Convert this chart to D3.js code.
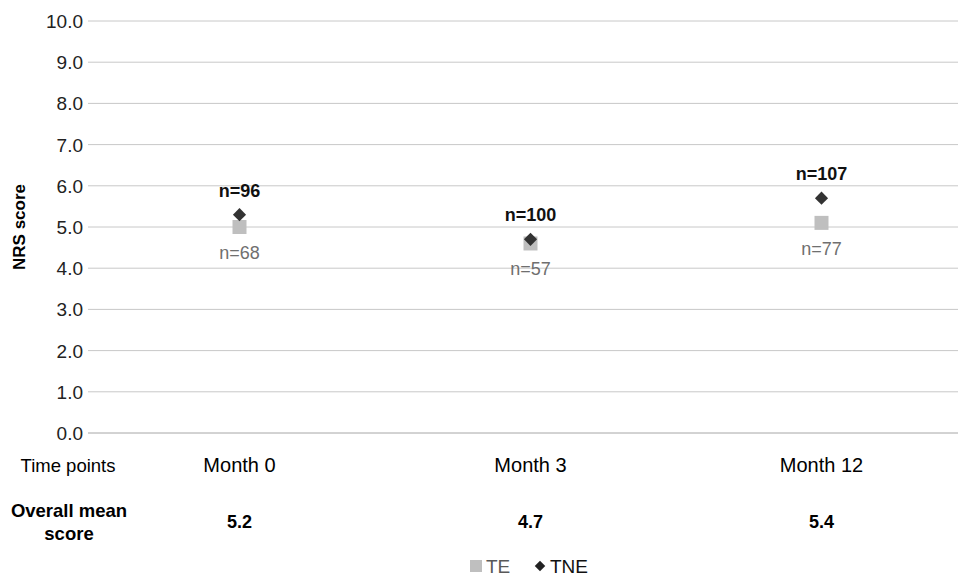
<!DOCTYPE html>
<html>
<head>
<meta charset="utf-8">
<script src="https://cdn.jsdelivr.net/npm/d3@7"></script>
<style>
  body { margin: 0; background: #fff; }
  text { font-family: "Liberation Sans", Arial, sans-serif; }
</style>
</head>
<body>
<svg id="chart" width="958" height="576"></svg>
<script>
const months = ['Month 0', 'Month 3', 'Month 12']
const teValues = [5.0, 4.6, 5.1]
const tneValues = [5.3, 4.7, 5.7]
const teN = ['n=68', 'n=57', 'n=77']
const tneN = ['n=96', 'n=100', 'n=107']
const overallMean = ['5.2', '4.7', '5.4']
const yTicks = [0, 1, 2, 3, 4, 5, 6, 7, 8, 9, 10]

const svg = d3.select('#chart')
const plotLeft = 94, plotRight = 967, plotTop = 21, plotBottom = 433

const x = d3.scaleBand().domain(months).range([plotLeft, plotRight])
const y = d3.scaleLinear().domain([0, 10]).range([plotBottom, plotTop])

// gridlines
svg.append('g')
  .selectAll('line')
  .data(yTicks)
  .enter()
  .append('line')
  .attr('x1', plotLeft - 6)
  .attr('x2', 958)
  .attr('y1', d => y(d))
  .attr('y2', d => y(d))
  .attr('stroke', d => d === 0 ? '#a6a6a6' : '#c8c8c8')
  .attr('stroke-width', 1)

// y labels
svg.append('g')
  .selectAll('text')
  .data(yTicks)
  .enter()
  .append('text')
  .attr('x', 83)
  .attr('y', d => y(d) + 7)
  .attr('text-anchor', 'end')
  .attr('font-size', 19)
  .attr('fill', '#222')
  .text(d => d.toFixed(1))

svg.append('text')
  .attr('transform', `translate(25,${(plotTop + plotBottom) / 2}) rotate(-90)`)
  .attr('text-anchor', 'middle')
  .attr('font-size', 17)
  .attr('font-weight', 'bold')
  .text('NRS score')

const cx = d => x(d) + x.bandwidth() / 2

// TE squares
svg.append('g')
  .selectAll('rect')
  .data(months)
  .enter()
  .append('rect')
  .attr('x', (d) => cx(d) - 7)
  .attr('y', (d, i) => y(teValues[i]) - 7)
  .attr('width', 14)
  .attr('height', 14)
  .attr('fill', '#bfbfbf')

// TNE diamonds
const diamond = d3.symbol().type(d3.symbolDiamond2).size(110)
svg.append('g')
  .selectAll('path')
  .data(months)
  .enter()
  .append('path')
  .attr('d', diamond)
  .attr('transform', (d, i) => `translate(${cx(d)},${y(tneValues[i])})`)
  .attr('fill', '#333333')

// n labels
svg.append('g')
  .selectAll('text')
  .data(months)
  .enter()
  .append('text')
  .attr('x', d => cx(d))
  .attr('y', (d, i) => y(tneValues[i]) - 18)
  .attr('text-anchor', 'middle')
  .attr('font-size', 18)
  .attr('font-weight', 'bold')
  .attr('fill', '#111')
  .text((d, i) => tneN[i])

svg.append('g')
  .selectAll('text')
  .data(months)
  .enter()
  .append('text')
  .attr('x', d => cx(d))
  .attr('y', (d, i) => y(teValues[i]) + 32)
  .attr('text-anchor', 'middle')
  .attr('font-size', 18)
  .attr('fill', '#6f6f6f')
  .text((d, i) => teN[i])

// table rows below axis
svg.append('text')
  .attr('x', 68).attr('y', 472)
  .attr('text-anchor', 'middle')
  .attr('font-size', 18.5)
  .text('Time points')

svg.append('g')
  .selectAll('text')
  .data(months)
  .enter()
  .append('text')
  .attr('x', d => cx(d))
  .attr('y', 472)
  .attr('text-anchor', 'middle')
  .attr('font-size', 20)
  .text(d => d)

svg.append('text')
  .attr('x', 69).attr('y', 517)
  .attr('text-anchor', 'middle')
  .attr('font-size', 18.5)
  .attr('font-weight', 'bold')
  .text('Overall mean')
svg.append('text')
  .attr('x', 69).attr('y', 540)
  .attr('text-anchor', 'middle')
  .attr('font-size', 18.5)
  .attr('font-weight', 'bold')
  .text('score')

svg.append('g')
  .selectAll('text')
  .data(months)
  .enter()
  .append('text')
  .attr('x', d => cx(d))
  .attr('y', 528)
  .attr('text-anchor', 'middle')
  .attr('font-size', 18)
  .attr('font-weight', 'bold')
  .text((d, i) => overallMean[i])

// legend
const lg = svg.append('g')
lg.append('rect').attr('x', 470).attr('y', 560).attr('width', 12).attr('height', 12).attr('fill', '#bfbfbf')
lg.append('text').attr('x', 486).attr('y', 573).attr('font-size', 19).attr('fill', '#595959').text('TE')
lg.append('path').attr('d', d3.symbol().type(d3.symbolDiamond2).size(70))
  .attr('transform', 'translate(540,566)').attr('fill', '#222')
lg.append('text').attr('x', 550).attr('y', 573).attr('font-size', 19).attr('fill', '#111').text('TNE')
</script>
</body>
</html>
